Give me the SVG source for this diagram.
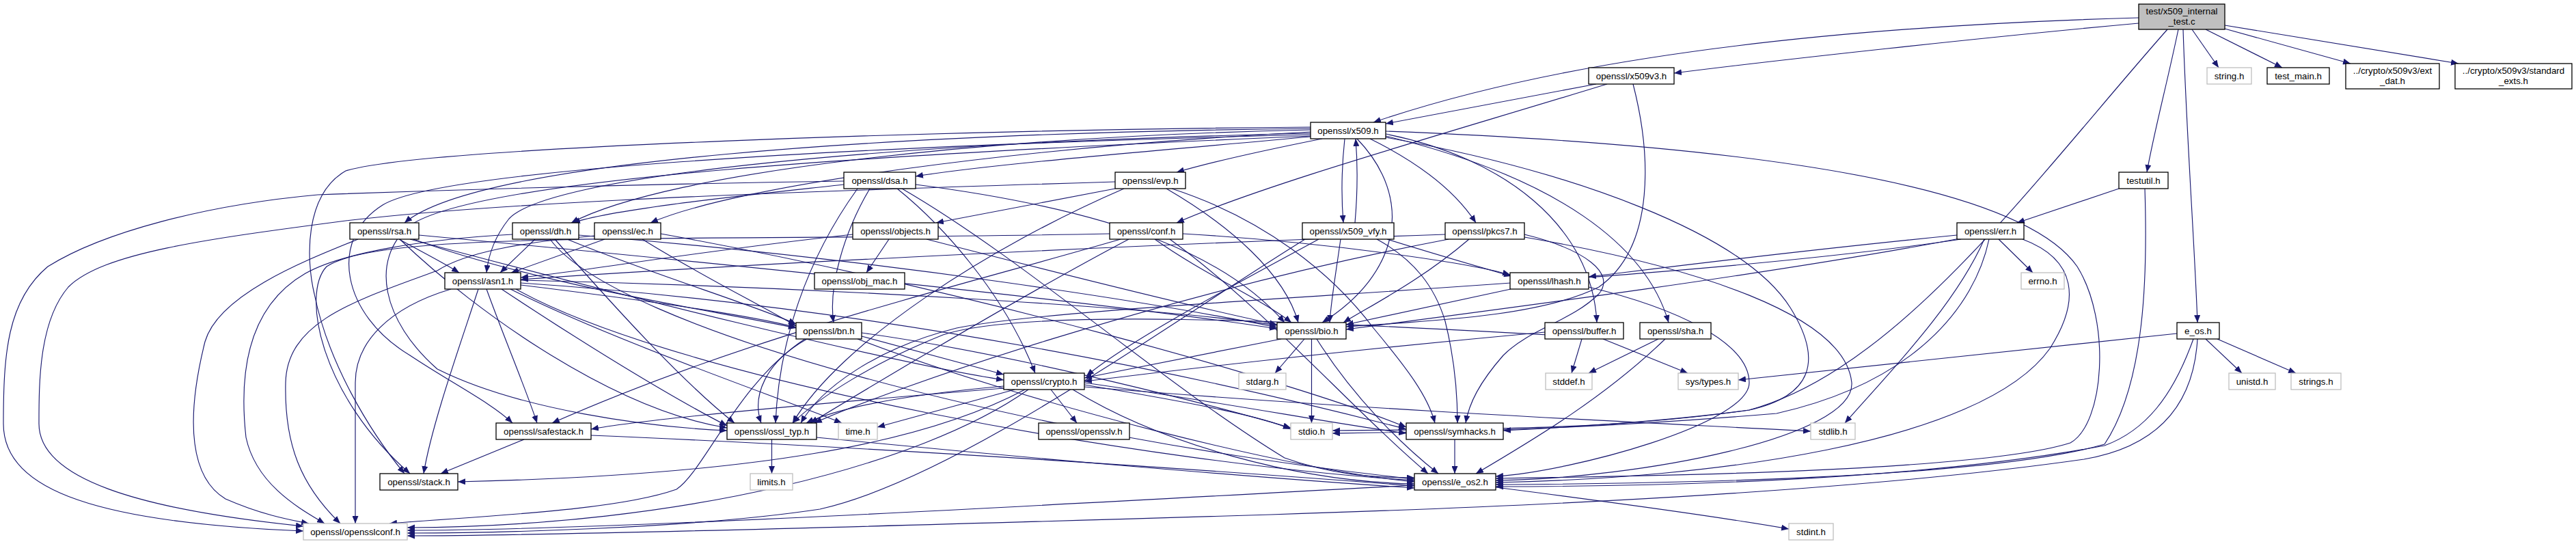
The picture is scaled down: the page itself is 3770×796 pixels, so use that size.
<svg xmlns="http://www.w3.org/2000/svg" width="3770" height="796" viewBox="0 0 3770 796">
<style>
.e{fill:none;stroke:#191970;stroke-width:1.15;marker-end:url(#a)}
.n rect{fill:#fff;stroke:#000;stroke-width:1.3}
.g rect{fill:#fff;stroke:#bfbfbf;stroke-width:1.3}
.r rect{fill:#bfbfbf;stroke:#000;stroke-width:1.3}
text{font-family:'Liberation Sans',Arial,Helvetica,sans-serif;font-size:13.3px;fill:#000;text-anchor:middle}
</style>
<defs>
<marker id="a" markerWidth="11" markerHeight="9" refX="11" refY="4.5" orient="auto" markerUnits="userSpaceOnUse"><path d="M0,0 L11,4.5 L0,9 z" fill="#191970"/></marker>
</defs>
<rect width="3770" height="796" fill="#fff"/>
<g id="edges">
<path class="e" d="M3208,43 L3247,99"/>
<path class="e" d="M3228,43 L3340,99"/>
<path class="e" d="M3256,42 L3440,93"/>
<path class="e" d="M3256,37 L3598,93"/>
<path class="e" d="M3188,43 C3172,120 3152,195 3142,252"/>
<path class="e" d="M3195,43 C3200,200 3212,360 3216,472"/>
<path class="e" d="M3172,43 C2980,260 2780,540 2560,600 C2350,630 2150,628 1950,630"/>
<path class="e" d="M3130,26 C2700,38 2300,80 2010,179"/>
<path class="e" d="M3130,34 C2900,55 2600,88 2450,107"/>
<path class="e" d="M2336,123 L2028,181"/>
<path class="e" d="M2352,123 C2100,200 1850,270 1722,326"/>
<path class="e" d="M2390,123 C2415,220 2425,360 2340,420 C2250,465 2080,470 1970,478"/>
<path class="e" d="M1968,203 C1963,250 1963,290 1966,326"/>
<path class="e" d="M1986,203 C2070,290 2050,400 1935,472"/>
<path class="e" d="M2005,203 C2080,240 2130,280 2160,326"/>
<path class="e" d="M2028,196 C2200,230 2330,330 2337,472"/>
<path class="e" d="M2028,199 C2280,260 2410,360 2442,472"/>
<path class="e" d="M2028,192 C2500,210 2950,260 3040,390 C3090,470 3080,620 3030,648 C2900,690 2400,697 2189,700"/>
<path class="e" d="M2028,201 C2300,250 2550,340 2620,450 C2670,530 2650,580 2560,600 C2450,615 2300,625 2200,630"/>
<path class="e" d="M1918,200 C1700,220 1450,240 1340,258"/>
<path class="e" d="M1935,203 C1850,220 1780,235 1722,252"/>
<path class="e" d="M1918,188 C1300,195 700,235 592,326"/>
<path class="e" d="M1918,190 C1450,200 980,250 836,326"/>
<path class="e" d="M1918,193 C1500,215 1080,270 952,326"/>
<path class="e" d="M1918,195 C1250,210 800,260 745,320 C725,345 715,370 712,399"/>
<path class="e" d="M1918,186 C1400,190 620,215 506,250 C445,285 448,380 460,430 C480,530 540,630 592,693"/>
<path class="e" d="M1918,197 C1200,215 640,250 560,300 C480,350 500,460 600,520 C660,560 720,590 750,619"/>
<path class="e" d="M1918,199 C1300,225 700,260 600,330 C540,380 560,470 640,540 C760,600 950,625 1064,630"/>
<path class="e" d="M1983,326 C1987,280 1987,240 1984,203"/>
<path class="e" d="M2030,350 C2110,375 2170,392 2212,404"/>
<path class="e" d="M1962,350 C1955,400 1948,440 1946,472"/>
<path class="e" d="M1930,350 C1800,420 1650,500 1590,550"/>
<path class="e" d="M2015,350 C2070,380 2100,420 2115,470 C2130,530 2133,580 2133,619"/>
<path class="e" d="M1910,350 C1700,480 1400,700 1200,745 C1000,775 700,780 596,780"/>
<path class="e" d="M2150,350 C2080,410 2010,445 1966,472"/>
<path class="e" d="M2115,343 C1600,360 1000,392 762,409"/>
<path class="e" d="M2120,350 C1700,430 1300,570 1192,619"/>
<path class="e" d="M2231,343 C2320,365 2365,400 2340,430 C2300,470 2240,480 2200,520 C2165,560 2150,590 2145,619"/>
<path class="e" d="M2231,347 C2480,390 2700,460 2710,560 C2715,640 2400,700 2189,703"/>
<path class="e" d="M1632,276 L1370,326"/>
<path class="e" d="M1632,266 C1000,285 700,300 506,323 C300,350 150,370 100,420 C57,470 57,560 57,620 C57,700 200,745 444,770"/>
<path class="e" d="M1707,276 C1800,330 1880,400 1900,472"/>
<path class="e" d="M1715,276 C1850,320 1950,400 2010,480 C2060,540 2090,580 2100,619"/>
<path class="e" d="M1645,276 C1450,360 1230,500 1160,619"/>
<path class="e" d="M1235,270 C1100,285 900,305 838,326"/>
<path class="e" d="M1235,265 C900,270 600,280 465,285 C300,300 150,340 70,390 C10,440 5,520 5,620 C5,720 150,765 444,777"/>
<path class="e" d="M1340,270 C1650,310 1800,380 1880,472"/>
<path class="e" d="M1313,276 C1380,330 1470,430 1515,546"/>
<path class="e" d="M1273,276 C1235,340 1212,420 1220,472"/>
<path class="e" d="M1255,276 C1180,380 1140,500 1135,619"/>
<path class="e" d="M1320,276 C1500,380 1700,560 1880,670 C1950,695 2010,699 2070,699"/>
<path class="e" d="M584,350 C620,370 650,385 672,399"/>
<path class="e" d="M524,350 C450,380 320,430 300,500 C270,620 280,700 330,730 C380,752 420,760 452,766"/>
<path class="e" d="M613,344 C1000,380 1600,440 1869,481"/>
<path class="e" d="M600,350 C900,430 1300,530 1469,556"/>
<path class="e" d="M585,350 C700,460 900,600 1064,626"/>
<path class="e" d="M605,350 C800,420 1050,455 1165,480"/>
<path class="e" d="M783,350 L732,399"/>
<path class="e" d="M750,343 C620,350 500,370 447,400 C360,450 350,550 360,640 C375,710 440,745 475,766"/>
<path class="e" d="M847,344 C1300,380 1700,445 1869,479"/>
<path class="e" d="M812,350 C900,450 1000,560 1075,619"/>
<path class="e" d="M830,350 C950,400 1100,445 1165,474"/>
<path class="e" d="M805,350 C900,480 1500,640 2070,701"/>
<path class="e" d="M885,350 C830,370 780,388 748,399"/>
<path class="e" d="M870,345 C760,355 680,370 640,396 C520,440 420,470 418,560 C416,650 440,710 498,766"/>
<path class="e" d="M967,342 C1400,420 1900,560 2058,625"/>
<path class="e" d="M940,350 C1020,400 1120,450 1165,477"/>
<path class="e" d="M700,423 C675,500 632,620 620,693"/>
<path class="e" d="M712,423 C740,500 770,570 786,619"/>
<path class="e" d="M660,423 C570,450 520,500 520,560 L520,766"/>
<path class="e" d="M734,423 C850,500 980,580 1064,623"/>
<path class="e" d="M747,423 C900,500 1150,585 1232,619"/>
<path class="e" d="M762,417 C950,440 1100,462 1165,479"/>
<path class="e" d="M762,410 C1200,420 1700,450 1869,476"/>
<path class="e" d="M762,414 C1300,450 1800,560 2058,628"/>
<path class="e" d="M755,423 C1000,560 1700,680 2070,703"/>
<path class="e" d="M1301,350 L1268,399"/>
<path class="e" d="M1248,343 C1000,370 850,398 762,406"/>
<path class="e" d="M1356,350 C1550,400 1750,450 1869,475"/>
<path class="e" d="M1690,350 C1760,400 1850,440 1890,472"/>
<path class="e" d="M1731,342 C1950,355 2150,385 2210,402"/>
<path class="e" d="M1624,342 C1000,355 560,335 478,390 C440,430 470,580 600,693"/>
<path class="e" d="M1640,350 C1400,420 1100,490 808,619"/>
<path class="e" d="M1712,350 C1850,450 1980,600 2090,693"/>
<path class="e" d="M1652,350 C1500,430 1300,550 1186,619"/>
<path class="e" d="M2925,350 L2975,399"/>
<path class="e" d="M2864,344 C2600,370 2400,396 2325,405"/>
<path class="e" d="M2868,349 C2600,400 2200,452 1970,482"/>
<path class="e" d="M2870,350 C2400,420 1600,440 1400,480 C1280,510 1200,570 1172,619"/>
<path class="e" d="M2904,350 C2860,450 2760,550 2700,619"/>
<path class="e" d="M2911,350 C2890,450 2800,560 2600,605 C2300,630 2100,632 1950,634"/>
<path class="e" d="M2960,350 C3040,380 3045,440 3000,510 C2900,650 2500,700 2189,706"/>
<path class="e" d="M3101,276 L2952,326"/>
<path class="e" d="M3139,276 C3143,400 3140,560 3080,650 C2900,702 2400,708 2189,709"/>
<path class="e" d="M3228,496 L3281,546"/>
<path class="e" d="M3245,496 L3360,546"/>
<path class="e" d="M3186,488 L2544,556"/>
<path class="e" d="M3210,496 C3180,580 3140,630 3080,652 C2800,705 2400,712 2189,712"/>
<path class="e" d="M3216,496 C3210,600 3150,655 3050,672 C2700,722 2200,742 1860,753 C1300,770 800,784 596,784"/>
<path class="e" d="M2211,423 L1970,475"/>
<path class="e" d="M2325,420 C2450,450 2560,500 2560,560 C2560,620 2300,690 2189,697"/>
<path class="e" d="M1181,496 C1120,530 1100,580 1114,619"/>
<path class="e" d="M1178,496 C1080,560 1030,690 990,716 C900,748 700,755 570,766"/>
<path class="e" d="M1261,492 L1469,548"/>
<path class="e" d="M1261,487 C1500,520 1800,600 1889,626"/>
<path class="e" d="M1255,496 C1500,590 1900,690 2070,705"/>
<path class="e" d="M1909,496 L1866,546"/>
<path class="e" d="M1919.5,496 L1919.5,619"/>
<path class="e" d="M1927,496 C1980,580 2050,650 2105,693"/>
<path class="e" d="M1875,496 C1750,520 1650,540 1587,553"/>
<path class="e" d="M2315,496 L2300,546"/>
<path class="e" d="M2346,496 L2470,546"/>
<path class="e" d="M2261,486 C2000,510 1750,538 1587,558"/>
<path class="e" d="M2265,490 C1900,470 1500,450 1380,490 C1280,530 1200,580 1160,619"/>
<path class="e" d="M2427,496 L2325,546"/>
<path class="e" d="M2437,496 C2350,580 2250,640 2160,693"/>
<path class="e" d="M1538,570 L1576,619"/>
<path class="e" d="M1485,570 L1284,625"/>
<path class="e" d="M1469,565 C1300,580 1220,600 1180,619"/>
<path class="e" d="M1469,568 C1200,590 950,612 865,628"/>
<path class="e" d="M1500,570 C1350,650 1100,695 670,705"/>
<path class="e" d="M1505,570 C1350,680 1000,770 596,772"/>
<path class="e" d="M1587,566 C2000,600 2400,618 2650,631"/>
<path class="e" d="M1587,563 C1750,590 1850,610 1889,628"/>
<path class="e" d="M1587,560 C1800,590 1950,620 2058,634"/>
<path class="e" d="M1570,570 C1700,650 1900,705 2070,708"/>
<path class="e" d="M767,643 L645,693"/>
<path class="e" d="M865,637 C1300,655 1800,690 2070,711"/>
<path class="e" d="M1129.5,643 L1129.5,693"/>
<path class="e" d="M1195,640 C1500,670 1850,700 2070,714"/>
<path class="e" d="M2129,643 L2129,693"/>
<path class="e" d="M2070,710 C1600,735 900,776 596,776"/>
<path class="e" d="M2189,713 C2400,740 2550,762 2618,774"/>
</g>
<g id="node-test" class="r"><rect x="3130" y="6" width="126" height="37"/><text x="3193" y="21">test/x509_internal</text><text x="3193" y="36">_test.c</text></g>
<g id="node-x509v3" class="n"><rect x="2325" y="99" width="125" height="24"/><text x="2387.5" y="116">openssl/x509v3.h</text></g>
<g id="node-string" class="g"><rect x="3230" y="99" width="65" height="24"/><text x="3262.5" y="116">string.h</text></g>
<g id="node-testmain" class="n"><rect x="3318" y="99" width="91" height="24"/><text x="3363.5" y="116">test_main.h</text></g>
<g id="node-extdat" class="n"><rect x="3433" y="93" width="137" height="37"/><text x="3501.5" y="108">../crypto/x509v3/ext</text><text x="3501.5" y="123">_dat.h</text></g>
<g id="node-stdexts" class="n"><rect x="3593" y="93" width="171" height="37"/><text x="3678.5" y="108">../crypto/x509v3/standard</text><text x="3678.5" y="123">_exts.h</text></g>
<g id="node-x509" class="n"><rect x="1918" y="179" width="110" height="24"/><text x="1973" y="196">openssl/x509.h</text></g>
<g id="node-dsa" class="n"><rect x="1235" y="252" width="105" height="24"/><text x="1287.5" y="269">openssl/dsa.h</text></g>
<g id="node-evp" class="n"><rect x="1632" y="252" width="103" height="24"/><text x="1683.5" y="269">openssl/evp.h</text></g>
<g id="node-testutil" class="n"><rect x="3101" y="252" width="72" height="24"/><text x="3137" y="269">testutil.h</text></g>
<g id="node-rsa" class="n"><rect x="512" y="326" width="101" height="24"/><text x="562.5" y="343">openssl/rsa.h</text></g>
<g id="node-dh" class="n"><rect x="750" y="326" width="97" height="24"/><text x="798.5" y="343">openssl/dh.h</text></g>
<g id="node-ec" class="n"><rect x="870" y="326" width="97" height="24"/><text x="918.5" y="343">openssl/ec.h</text></g>
<g id="node-objects" class="n"><rect x="1248" y="326" width="125" height="24"/><text x="1310.5" y="343">openssl/objects.h</text></g>
<g id="node-conf" class="n"><rect x="1624" y="326" width="107" height="24"/><text x="1677.5" y="343">openssl/conf.h</text></g>
<g id="node-x509vfy" class="n"><rect x="1906" y="326" width="134" height="24"/><text x="1973" y="343">openssl/x509_vfy.h</text></g>
<g id="node-pkcs7" class="n"><rect x="2115" y="326" width="116" height="24"/><text x="2173" y="343">openssl/pkcs7.h</text></g>
<g id="node-err" class="n"><rect x="2864" y="326" width="98" height="24"/><text x="2913" y="343">openssl/err.h</text></g>
<g id="node-asn1" class="n"><rect x="651" y="399" width="111" height="24"/><text x="706.5" y="416">openssl/asn1.h</text></g>
<g id="node-objmac" class="n"><rect x="1192" y="399" width="132" height="24"/><text x="1258" y="416">openssl/obj_mac.h</text></g>
<g id="node-lhash" class="n"><rect x="2210" y="399" width="115" height="24"/><text x="2267.5" y="416">openssl/lhash.h</text></g>
<g id="node-errno" class="g"><rect x="2958" y="399" width="63" height="24"/><text x="2989.5" y="416">errno.h</text></g>
<g id="node-bn" class="n"><rect x="1165" y="472" width="96" height="24"/><text x="1213" y="489">openssl/bn.h</text></g>
<g id="node-bio" class="n"><rect x="1869" y="472" width="101" height="24"/><text x="1919.5" y="489">openssl/bio.h</text></g>
<g id="node-buffer" class="n"><rect x="2261" y="472" width="115" height="24"/><text x="2318.5" y="489">openssl/buffer.h</text></g>
<g id="node-sha" class="n"><rect x="2400" y="472" width="104" height="24"/><text x="2452" y="489">openssl/sha.h</text></g>
<g id="node-eos" class="n"><rect x="3186" y="472" width="62" height="24"/><text x="3217" y="489">e_os.h</text></g>
<g id="node-crypto" class="n"><rect x="1469" y="546" width="118" height="24"/><text x="1528" y="563">openssl/crypto.h</text></g>
<g id="node-stdarg" class="g"><rect x="1813" y="546" width="69" height="24"/><text x="1847.5" y="563">stdarg.h</text></g>
<g id="node-stddef" class="g"><rect x="2262" y="546" width="68" height="24"/><text x="2296" y="563">stddef.h</text></g>
<g id="node-systypes" class="g"><rect x="2456" y="546" width="88" height="24"/><text x="2500" y="563">sys/types.h</text></g>
<g id="node-unistd" class="g"><rect x="3262" y="546" width="68" height="24"/><text x="3296" y="563">unistd.h</text></g>
<g id="node-strings" class="g"><rect x="3353" y="546" width="73" height="24"/><text x="3389.5" y="563">strings.h</text></g>
<g id="node-safestack" class="n"><rect x="726" y="619" width="139" height="24"/><text x="795.5" y="636">openssl/safestack.h</text></g>
<g id="node-ossltyp" class="n"><rect x="1064" y="619" width="131" height="24"/><text x="1129.5" y="636">openssl/ossl_typ.h</text></g>
<g id="node-time" class="g"><rect x="1227" y="619" width="57" height="24"/><text x="1255.5" y="636">time.h</text></g>
<g id="node-opensslv" class="n"><rect x="1520" y="619" width="133" height="24"/><text x="1586.5" y="636">openssl/opensslv.h</text></g>
<g id="node-stdio" class="g"><rect x="1889" y="619" width="61" height="24"/><text x="1919.5" y="636">stdio.h</text></g>
<g id="node-symhacks" class="n"><rect x="2058" y="619" width="142" height="24"/><text x="2129" y="636">openssl/symhacks.h</text></g>
<g id="node-stdlib" class="g"><rect x="2650" y="619" width="65" height="24"/><text x="2682.5" y="636">stdlib.h</text></g>
<g id="node-stack" class="n"><rect x="556" y="693" width="114" height="24"/><text x="613" y="710">openssl/stack.h</text></g>
<g id="node-limits" class="g"><rect x="1098" y="693" width="62" height="24"/><text x="1129" y="710">limits.h</text></g>
<g id="node-eos2" class="n"><rect x="2070" y="693" width="119" height="24"/><text x="2129.5" y="710">openssl/e_os2.h</text></g>
<g id="node-opensslconf" class="g"><rect x="444" y="766" width="152" height="24"/><text x="520" y="783">openssl/opensslconf.h</text></g>
<g id="node-stdint" class="g"><rect x="2618" y="766" width="65" height="24"/><text x="2650.5" y="783">stdint.h</text></g>
</svg>
